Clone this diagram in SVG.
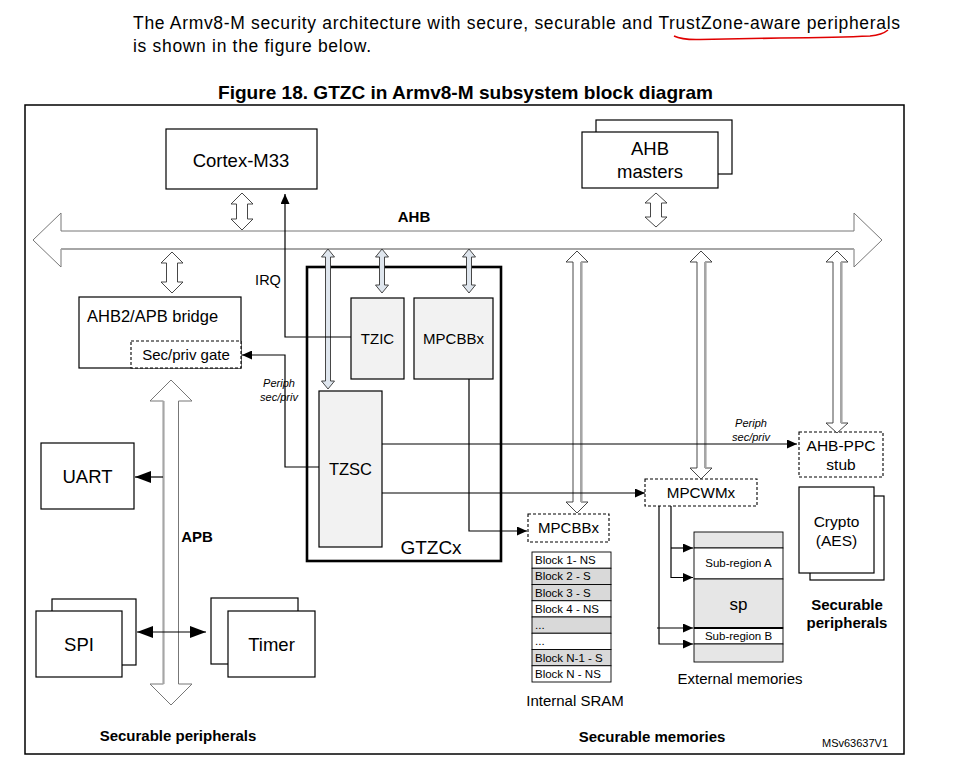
<svg xmlns="http://www.w3.org/2000/svg" width="975" height="782" viewBox="0 0 975 782">
<style>
text{font-family:"Liberation Sans",Arial,sans-serif;fill:#000}
.c{text-anchor:middle}
.b{font-weight:bold}
.box{fill:#fff;stroke:#000;stroke-width:1.2}
.gbox{fill:#f2f2f2;stroke:#000;stroke-width:1.2}
.dash{fill:#fff;stroke:#000;stroke-width:1.1;stroke-dasharray:3,2}
.ln{fill:none;stroke:#000;stroke-width:1.2}
.warr{fill:#fff;stroke:#333;stroke-width:0.9}
.barr{fill:#dfe6ee;stroke:#333;stroke-width:0.9}
.gr{stroke:#a6a6a6;stroke-width:2.2;fill:none}
.row{stroke:#000;stroke-width:0.9}
</style>
<defs>
<marker id="ah" markerUnits="userSpaceOnUse" markerWidth="10" markerHeight="9" refX="10" refY="4.5" orient="auto-start-reverse"><path d="M0,0 L10,4.5 L0,9 z" fill="#000"/></marker>
<marker id="ahL" markerUnits="userSpaceOnUse" markerWidth="16" markerHeight="12" refX="16" refY="6" orient="auto-start-reverse"><path d="M0,0 L16,6 L0,12 z" fill="#000"/></marker>
</defs>
<rect width="975" height="782" fill="#fff"/>
<g id="header">
<text x="133" y="29" font-size="17.5" textLength="767" lengthAdjust="spacing">The Armv8-M security architecture with secure, securable and TrustZone-aware peripherals</text>
<text x="133" y="52" font-size="17.5" textLength="238" lengthAdjust="spacing">is shown in the figure below.</text>
<path d="M674,36 Q682,40 700,39.5 L780,38 Q840,37.5 870,36 Q882,35 888,30" fill="none" stroke="#e00000" stroke-width="1.6"/>
<text x="218" y="99" font-size="18.5" class="b" textLength="495" lengthAdjust="spacingAndGlyphs">Figure 18. GTZC in Armv8-M subsystem block diagram</text>
</g>
<rect id="frame" x="25" y="105" width="879" height="649" fill="none" stroke="#000" stroke-width="1.5"/>
<g id="ahb-bus">
<polygon points="33,240 61,213 61,231 854,231 854,213 882,240 854,267 854,249 61,249 61,267" fill="#fff" stroke="#777" stroke-width="1"/>
<line x1="61" y1="249" x2="854" y2="249" class="gr"/>
<text x="414" y="222" font-size="15" class="c b">AHB</text>
</g>
<g id="apb-bus">
<polygon points="171,380 192,401 178.5,401 178.5,684 192,684 171,705 150,684 163.5,684 163.5,401 150,401" fill="#fff" stroke="#777" stroke-width="1"/>
<line x1="163.5" y1="401" x2="163.5" y2="684" class="gr"/>
<text x="197" y="542" font-size="15" class="c b">APB</text>
</g>
<g id="cortex">
<rect x="166" y="129" width="151" height="60" class="box"/>
<text x="241" y="166.5" font-size="18.5" class="c">Cortex-M33</text>
</g>
<g id="ahb-masters">
<rect x="596" y="120" width="136" height="54" class="box"/>
<rect x="582" y="132" width="136" height="56" class="box"/>
<text x="650" y="154.5" font-size="18.5" class="c">AHB</text>
<text x="650" y="177.5" font-size="18.5" class="c">masters</text>
</g>
<g id="bridge">
<rect x="79" y="297" width="162" height="71" class="box"/>
<text x="87" y="322" font-size="16.5">AHB2/APB bridge</text>
<rect x="131" y="341" width="110" height="27" class="dash"/>
<text x="186" y="360" font-size="15" class="c">Sec/priv gate</text>
</g>
<g id="gtzc">
<rect x="307" y="267" width="194" height="294" fill="#fff" stroke="#000" stroke-width="2.6"/>
<text x="431" y="554" font-size="19" class="c">GTZCx</text>
</g>
<g id="tzic">
<rect x="351" y="298" width="53" height="81" class="gbox"/>
<text x="377.5" y="344" font-size="15" class="c">TZIC</text>
</g>
<g id="mpcbb-gtzc">
<rect x="414" y="298" width="79" height="81" class="gbox"/>
<text x="453.5" y="344" font-size="15" class="c">MPCBBx</text>
</g>
<g id="tzsc">
<rect x="319" y="391" width="63" height="156" class="gbox"/>
<text x="350.5" y="475" font-size="16.5" class="c">TZSC</text>
</g>
<g id="uart">
<rect x="41" y="443" width="93" height="66" class="box"/>
<text x="87.5" y="482.5" font-size="18.5" class="c">UART</text>
</g>
<g id="spi">
<rect x="52" y="599" width="84" height="66" class="box"/>
<rect x="36" y="611" width="86" height="66" class="box"/>
<text x="79" y="650.5" font-size="18.5" class="c">SPI</text>
</g>
<g id="timer">
<rect x="211" y="598" width="87" height="66" class="box"/>
<rect x="228" y="611" width="87" height="66" class="box"/>
<text x="271.5" y="650.5" font-size="18.5" class="c">Timer</text>
</g>
<g id="mpcbbx-sram">
<rect x="528" y="514" width="81" height="28" class="dash"/>
<text x="568.5" y="533" font-size="15" class="c">MPCBBx</text>
</g>
<g id="internal-sram">
<rect x="532" y="552" width="79" height="16.25" fill="#fff" class="row"/>
<rect x="532" y="568.25" width="79" height="16.25" fill="#d9d9d9" class="row"/>
<rect x="532" y="584.5" width="79" height="16.25" fill="#d9d9d9" class="row"/>
<rect x="532" y="600.75" width="79" height="16.25" fill="#fff" class="row"/>
<rect x="532" y="617" width="79" height="16.25" fill="#d9d9d9" class="row"/>
<rect x="532" y="633.25" width="79" height="16.25" fill="#fff" class="row"/>
<rect x="532" y="649.5" width="79" height="16.25" fill="#d9d9d9" class="row"/>
<rect x="532" y="665.75" width="79" height="16.25" fill="#fff" class="row"/>
<g font-size="11.5">
<text x="535" y="564">Block 1- NS</text>
<text x="535" y="580.25">Block 2 - S</text>
<text x="535" y="596.5">Block 3 - S</text>
<text x="535" y="612.75">Block 4 - NS</text>
<text x="535" y="629">...</text>
<text x="535" y="645.25">...</text>
<text x="535" y="661.5">Block N-1 - S</text>
<text x="535" y="677.75">Block N - NS</text>
</g>
<text x="575" y="706" font-size="15" class="c">Internal SRAM</text>
</g>
<g id="mpcwmx">
<rect x="645" y="479" width="112" height="27" class="dash"/>
<text x="701" y="498" font-size="15.2" class="c">MPCWMx</text>
</g>
<g id="external-memories">
<rect x="694" y="532" width="89" height="16" fill="#e6e6e6" class="row"/>
<rect x="694" y="548" width="89" height="31" fill="#fff" class="row"/>
<rect x="694" y="579" width="89" height="49" fill="#e6e6e6" class="row"/>
<rect x="694" y="628" width="89" height="16" fill="#fff" class="row"/>
<rect x="694" y="644" width="89" height="18" fill="#e6e6e6" class="row"/>
<line x1="694" y1="628" x2="783" y2="628" stroke="#000" stroke-width="2"/>
<text x="738.5" y="567" font-size="11.5" class="c">Sub-region A</text>
<text x="738.5" y="610" font-size="17" class="c">sp</text>
<text x="738.5" y="640" font-size="11.5" class="c">Sub-region B</text>
<text x="740" y="684" font-size="15" class="c">External memories</text>
</g>
<g id="ahb-ppc">
<rect x="799" y="432" width="84" height="45" class="dash"/>
<text x="841" y="450.5" font-size="15.5" class="c">AHB-PPC</text>
<text x="841" y="469.5" font-size="15.5" class="c">stub</text>
</g>
<g id="crypto">
<rect x="810" y="496" width="74" height="84" class="box"/>
<rect x="799" y="487" width="75" height="86" class="box"/>
<text x="836.5" y="526.5" font-size="15.5" class="c">Crypto</text>
<text x="836.5" y="545.5" font-size="15.5" class="c">(AES)</text>
</g>
<g id="labels">
<text x="178" y="741" font-size="15" class="c b">Securable peripherals</text>
<text x="652" y="742" font-size="15" class="c b">Securable memories</text>
<text x="847" y="610" font-size="15" class="c b">Securable</text>
<text x="847" y="628" font-size="15" class="c b">peripherals</text>
<text x="855" y="747" font-size="11" class="c">MSv63637V1</text>
</g>
<g id="connectors">
<polygon class="warr" points="242,193 253,204 247.5,204 247.5,219 253,219 242,230 231,219 236.5,219 236.5,204 231,204"/>
<polygon class="warr" points="172,252 183,263 177.5,263 177.5,282 183,282 172,293 161,282 166.5,282 166.5,263 161,263"/>
<polygon class="warr" points="656,193 667,203 661.5,203 661.5,217 667,217 656,227 645,217 650.5,217 650.5,203 645,203"/>
<polygon class="barr" points="328,249 334.5,257 330.5,257 330.5,381 334.5,381 328,389 321.5,381 325.5,381 325.5,257 321.5,257"/>
<polygon class="barr" points="382,249 388.5,257 384.5,257 384.5,285 388.5,285 382,293 375.5,285 379.5,285 379.5,257 375.5,257"/>
<polygon class="barr" points="469,249 475.5,257 471.5,257 471.5,285 475.5,285 469,293 462.5,285 466.5,285 466.5,257 462.5,257"/>
<polygon class="warr" points="577,251 588,262 581,262 581,502 588,502 577,513 566,502 573,502 573,262 566,262"/>
<line x1="581.5" y1="262" x2="581.5" y2="502" class="gr"/>
<polygon class="warr" points="701,251 712,262 705,262 705,468 712,468 701,479 690,468 697,468 697,262 690,262"/>
<line x1="705.5" y1="262" x2="705.5" y2="468" class="gr"/>
<polygon class="warr" points="837,251 848,262 841,262 841,423 848,423 837,433 826,423 833,423 833,262 826,262"/>
<line x1="841.5" y1="262" x2="841.5" y2="423" class="gr"/>
<polyline class="ln" points="351,337 285,337 285,194" marker-end="url(#ah)"/>
<text x="268" y="285" font-size="14.5" class="c">IRQ</text>
<polyline class="ln" points="319,467 285,467 285,355 242,355" marker-end="url(#ah)"/>
<text x="279" y="387" font-size="11" font-style="italic" class="c" fill="#1a1a3a">Periph</text>
<text x="279" y="401" font-size="11" font-style="italic" class="c" fill="#1a1a3a">sec/priv</text>
<line x1="382" y1="444" x2="797" y2="444" class="ln" marker-end="url(#ah)"/>
<text x="751" y="427" font-size="11" font-style="italic" class="c" fill="#1a1a3a">Periph</text>
<text x="751" y="441" font-size="11" font-style="italic" class="c" fill="#1a1a3a">sec/priv</text>
<line x1="382" y1="493" x2="645" y2="493" class="ln" marker-end="url(#ah)"/>
<polyline class="ln" points="469,379 469,531 527,531" marker-end="url(#ah)"/>
<polyline class="ln" points="671,506 671,577.5 693,577.5" marker-end="url(#ah)"/>
<line x1="671" y1="548" x2="693" y2="548" class="ln" marker-end="url(#ah)"/>
<polyline class="ln" points="659,506 659,644 693,644" marker-end="url(#ah)"/>
<line x1="657" y1="628" x2="693" y2="628" class="ln" marker-end="url(#ah)"/>
<line x1="163" y1="477" x2="135" y2="477" class="ln" marker-end="url(#ahL)"/>
<line x1="137" y1="632" x2="206" y2="632" class="ln" marker-start="url(#ahL)" marker-end="url(#ahL)"/>
</g>
</svg>
